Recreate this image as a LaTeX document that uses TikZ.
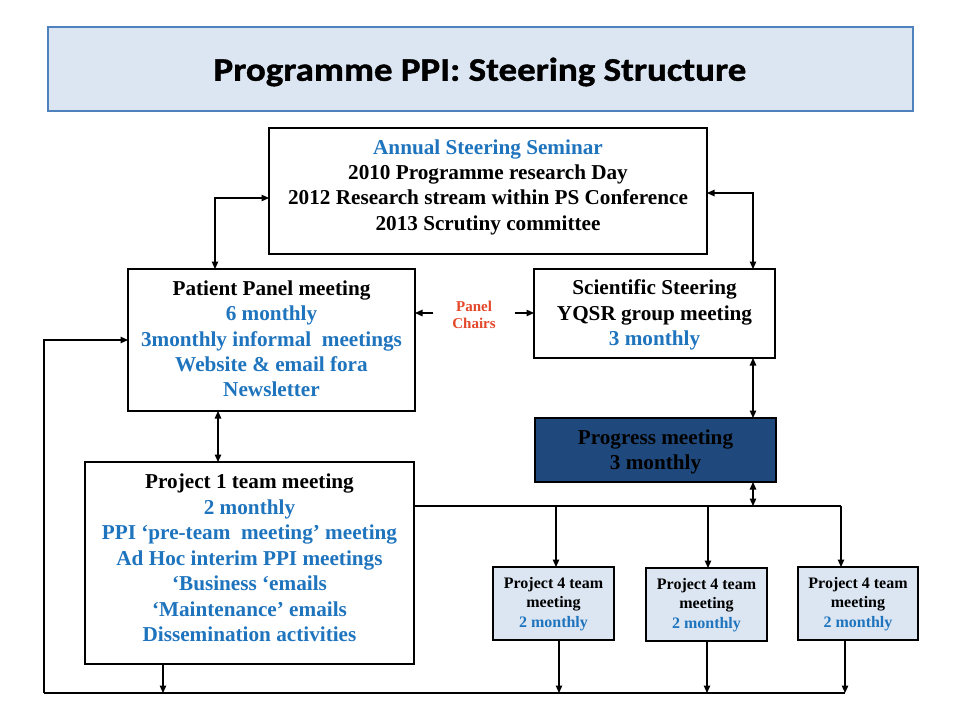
\documentclass[tikz,border=0pt]{standalone}
\usepackage{fontspec}
\setmainfont{Liberation Serif}
\newfontfamily\titlefont[FakeStretch=1.12,FakeBold=1.2]{Carlito}
\usetikzlibrary{arrows.meta}
\definecolor{tblue}{HTML}{1F74BE}
\definecolor{pchair}{HTML}{E4472A}
\definecolor{lightfill}{HTML}{DCE6F2}
\definecolor{titleborder}{HTML}{4F81BD}
\definecolor{progfill}{HTML}{1F497D}
\begin{document}
\begin{tikzpicture}[x=1pt,y=-1pt,
  >={Triangle[length=7.5pt,width=6.5pt]},
  line width=1.2pt,
  box/.style={draw=black, line width=1.2pt, inner sep=0pt, outer sep=0pt},
  txt/.style={align=center, inner sep=0pt, font=\bfseries\fontsize{21.2}{25.3}\selectfont},
  smalltxt/.style={align=center, inner sep=0pt, font=\bfseries\fontsize{16}{19.5}\selectfont},
  conn/.style={draw=black, line width=1.2pt}]
\useasboundingbox (0,0) rectangle (960,720);
\fill[white] (0,0) rectangle (960,720);

% title
\node[draw=titleborder, line width=2.4pt, fill=lightfill, inner sep=0pt,
  minimum width=865pt, minimum height=84pt] (title) at (480.5,69) {};
\node[inner sep=0pt] (titletxt) at (480,72)
  {\titlefont\bfseries\fontsize{33}{38}\selectfont Programme PPI: Steering Structure};

% boxes
\node[box, minimum width=438pt, minimum height=126pt] (annual) at (488,191) {};
\node[box, minimum width=287pt, minimum height=142pt] (patient) at (271.5,340) {};
\node[box, minimum width=241pt, minimum height=89pt] (sci) at (654.5,313.5) {};
\node[box, fill=progfill, minimum width=241pt, minimum height=64pt] (prog) at (655.5,450) {};
\node[box, minimum width=329pt, minimum height=202pt] (p1) at (249.5,563) {};
\node[box, fill=lightfill, minimum width=121pt, minimum height=73pt] (q1) at (553.5,603.5) {};
\node[box, fill=lightfill, minimum width=121pt, minimum height=73pt] (q2) at (706.5,604.5) {};
\node[box, fill=lightfill, minimum width=120pt, minimum height=73pt] (q3) at (858,603.5) {};

% texts
\node[txt] (annualtxt) at (488,187) {\textcolor{tblue}{Annual Steering Seminar}\\2010 Programme research Day\\2012 Research stream within PS Conference\\2013 Scrutiny committee};
\node[txt] (patienttxt) at (271.5,339) {Patient Panel meeting\\\textcolor{tblue}{6 monthly}\\\textcolor{tblue}{3monthly informal\ \ meetings}\\\textcolor{tblue}{Website \& email fora}\\\textcolor{tblue}{Newsletter}};
\node[txt] (scitxt) at (654.5,315) {Scientific Steering\\YQSR group meeting\\\textcolor{tblue}{3 monthly}};
\node[txt] (progtxt) at (655.5,452) {Progress meeting\\3 monthly};
\node[txt, text=tblue, font=\bfseries\fontsize{21.2}{25.5}\selectfont] (p1txt) at (249.5,558) {\textcolor{black}{Project 1 team meeting}\\2 monthly\\PPI ‘pre-team\ \ meeting’ meeting\\Ad Hoc interim PPI meetings\\‘Business ‘emails\\‘Maintenance’ emails\\Dissemination activities};
\node[smalltxt] (q1txt) at (553.5,604) {Project 4 team\\meeting\\\textcolor{tblue}{2 monthly}};
\node[smalltxt] (q2txt) at (706.5,605) {Project 4 team\\meeting\\\textcolor{tblue}{2 monthly}};
\node[smalltxt] (q3txt) at (858,604) {Project 4 team\\meeting\\\textcolor{tblue}{2 monthly}};
\node[align=center, inner xsep=0pt, inner ysep=0pt, text=pchair,
  font=\bfseries\fontsize{15}{17}\selectfont, minimum width=80pt] (chairs) at (474,315) {Panel\\Chairs};

% coordinates
\coordinate (c1) at (215,198);
\coordinate (c2) at (753,193);
\coordinate (pp) at (218,0);
\coordinate (bus) at (753,506);
\coordinate (d1) at (556,506);
\coordinate (d2) at (708,506);
\coordinate (d3) at (841,506);
\coordinate (b0) at (44,693);
\coordinate (e0) at (163,693);
\coordinate (e1) at (559,693);
\coordinate (e2) at (707,693);
\coordinate (e3) at (845,693);
\coordinate (lp) at (44,340);
\coordinate (ch) at (0,313);

% connectors
\draw[conn,<->] (patient.north -| c1) |- (annual.west |- c1);
\draw[conn,<->] (annual.east |- c2) -| (sci.north -| c2);
\draw[conn,->] (chairs.west |- ch) -- (patient.east |- ch);
\draw[conn,->] (chairs.east |- ch) -- (sci.west |- ch);
\draw[conn,<->] (sci.south -| c2) -- (prog.north -| c2);
\draw[conn,<->] (prog.south -| bus) -- (bus);
\draw[conn,<->] (patient.south -| pp) -- (p1.north -| pp);
\draw[conn] (p1.east |- bus) -- (d3);
\draw[conn,->] (d1) -- (q1.north -| d1);
\draw[conn,->] (d2) -- (q2.north -| d2);
\draw[conn,->] (d3) -- (q3.north -| d3);
\draw[conn] (b0) -- (e3);
\draw[conn,->] (p1.south -| e0) -- (e0);
\draw[conn,->] (q1.south -| e1) -- (e1);
\draw[conn,->] (q2.south -| e2) -- (e2);
\draw[conn,->] (q3.south -| e3) -- (e3);
\draw[conn,->] (b0) -- (lp) -- (patient.west |- lp);
\end{tikzpicture}
\end{document}
